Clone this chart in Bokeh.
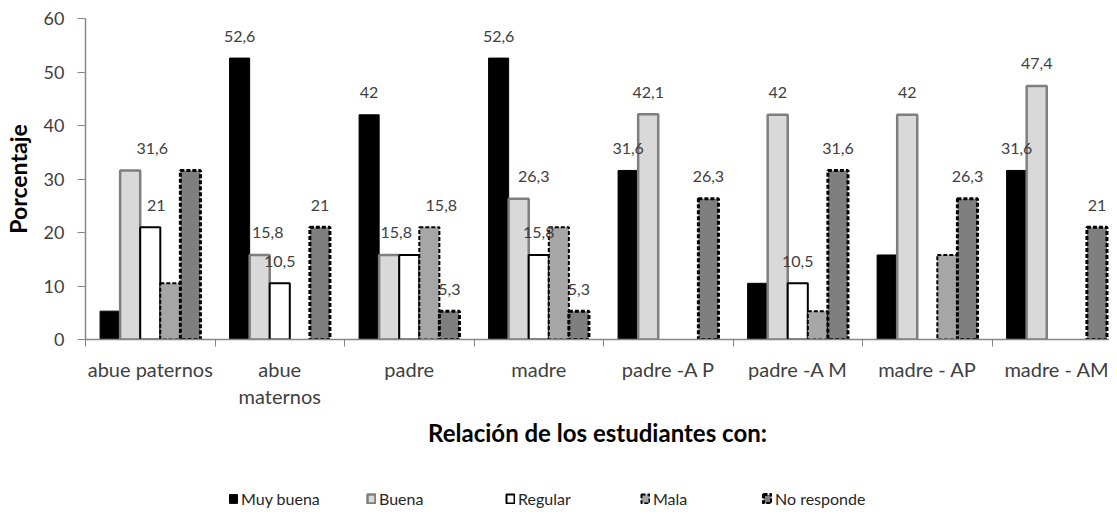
from bokeh.plotting import figure
from bokeh.layouts import column
from bokeh.models import Range1d, FixedTicker, ColumnDataSource, LabelSet, Legend, LegendItem
from bokeh.core.properties import value
from bokeh.embed import file_html
from bokeh.resources import INLINE

# ---------------- data ----------------
categories = ["abue paternos", "abue\nmaternos", "padre", "madre",
              "padre -A P", "padre -A M", "madre - AP", "madre - AM"]
series_names = ["Muy buena", "Buena", "Regular", "Mala", "No responde"]

muy_buena   = [5.3, 52.6, 42.0, 52.6, 31.6, 10.5, 15.8, 31.6]
buena       = [31.6, 15.8, 15.8, 26.3, 42.1, 42.0, 42.0, 47.4]
regular     = [21.0, 10.5, 15.8, 15.8, 0.0, 10.5, 0.0, 0.0]
mala        = [10.5, 0.0, 21.0, 21.0, 0.0, 5.3, 15.8, 0.0]
no_responde = [31.6, 21.0, 5.3, 5.3, 26.3, 31.6, 26.3, 21.0]

# data labels as printed on the chart ("" = no label)
labels_muy_buena   = ["", "52,6", "42", "52,6", "31,6", "", "", "31,6"]
labels_buena       = ["31,6", "15,8", "15,8", "26,3", "42,1", "42", "42", "47,4"]
labels_regular     = ["21", "10,5", "", "15,8", "", "10,5", "", ""]
labels_mala        = ["", "", "15,8", "", "", "", "", ""]
labels_no_responde = ["", "21", "5,3", "5,3", "26,3", "31,6", "26,3", "21"]

y_ticks = [0, 10, 20, 30, 40, 50, 60]

x_title = "Relación de los estudiantes con:"
y_title = "Porcentaje"

# ---------------- styling ----------------
values_all = [muy_buena, buena, regular, mala, no_responde]
labels_all = [labels_muy_buena, labels_buena, labels_regular, labels_mala, labels_no_responde]
offsets = [-0.31, -0.155, 0.0, 0.155, 0.31]
bar_w = 0.155
styles = [
    dict(fill_color="#000000", line_color="#000000", line_width=1, line_dash="solid"),
    dict(fill_color="#d9d9d9", line_color="#7f7f7f", line_width=2.5, line_dash="solid"),
    dict(fill_color="#ffffff", line_color="#000000", line_width=2, line_dash="solid"),
    dict(fill_color="#a6a6a6", line_color="#000000", line_width=2, line_dash="4 2"),
    dict(fill_color="#7f7f7f", line_color="#000000", line_width=3, line_dash="4 2"),
]
# small horizontal nudges (px) of some data labels, as in the original
label_nudge = {(1, 0): 22, (2, 0): 6, (1, 1): 8, (1, 2): 7, (3, 2): 12, (1, 3): 15}
legend_x = [143, 281, 420, 555, 677]   # px from the plot frame's left edge

FONT = "Lato"
TXT = "#404040"

n = len(categories)
x_lo, x_hi = -0.5, 7.407
p = figure(width=1109, height=460,
           x_range=Range1d(x_lo, x_hi), y_range=Range1d(0, 60),
           output_backend="svg", toolbar_location=None,
           min_border_left=85, min_border_right=0, min_border_top=18, min_border_bottom=121)
p.outline_line_color = None
p.xgrid.visible = False
p.ygrid.visible = False

sources = []
for si, (name, vals, labs) in enumerate(zip(series_names, values_all, labels_all)):
    xs = [i + offsets[si] for i in range(n) if vals[i] > 0]
    tops = [vals[i] for i in range(n) if vals[i] > 0]
    src = ColumnDataSource(dict(x=xs, top=tops))
    sources.append(src)
    p.vbar(x="x", top="top", width=bar_w, source=src, **styles[si])

    lx, ly, lt, lo = [], [], [], []
    for i in range(n):
        if labs[i]:
            lx.append(i + offsets[si])
            ly.append(vals[i])
            lt.append(labs[i])
            lo.append(label_nudge.get((si, i), 0))
    lsrc = ColumnDataSource(dict(x=lx, y=ly, t=lt, xo=lo))
    ls = LabelSet(x="x", y="y", text="t", source=lsrc, x_offset="xo", y_offset=22,
                  text_align="center", text_baseline="middle",
                  text_font=value(FONT), text_font_size="16px", text_color=TXT)
    p.add_layout(ls)

# x axis
xa = p.xaxis[0]
xa.ticker = FixedTicker(ticks=list(range(n)), minor_ticks=[i - 0.5 for i in range(n + 1)])
xa.major_label_overrides = {i: c for i, c in enumerate(categories)}
xa.major_tick_out = 0
xa.major_tick_in = 0
xa.major_tick_line_color = None
xa.minor_tick_out = 7
xa.minor_tick_in = 0
xa.minor_tick_line_color = "#868686"
xa.axis_line_color = "#868686"
xa.axis_line_width = 1.5
xa.major_label_text_font = FONT
xa.major_label_text_font_size = "20px"
xa.major_label_text_color = TXT
xa.major_label_text_line_height = 1.15
xa.major_label_standoff = 10
xa.axis_label = x_title
xa.axis_label_text_font = FONT
xa.axis_label_text_font_style = "bold"
xa.axis_label_text_font_size = "24px"
xa.axis_label_text_color = "#000000"
xa.axis_label_standoff = 7

# y axis
ya = p.yaxis[0]
ya.ticker = FixedTicker(ticks=y_ticks)
ya.major_tick_out = 8
ya.major_tick_in = 0
ya.major_tick_line_color = "#868686"
ya.minor_tick_line_color = None
ya.axis_line_color = "#868686"
ya.axis_line_width = 1.5
ya.major_label_text_font = FONT
ya.major_label_text_font_size = "18px"
ya.major_label_text_color = TXT
ya.major_label_standoff = 13
ya.axis_label = y_title
ya.axis_label_text_font = FONT
ya.axis_label_text_font_style = "bold"
ya.axis_label_text_font_size = "23px"
ya.axis_label_text_color = "#000000"
ya.axis_label_standoff = 9

# legend strip below the chart: its renderers are muted with fully transparent
# muted styles, so only the legend entries show
pl = figure(width=1109, height=48, x_range=Range1d(x_lo, x_hi), y_range=Range1d(0, 60),
            output_backend="svg", toolbar_location=None,
            x_axis_location=None, y_axis_location=None, min_border=0)
pl.outline_line_color = None
pl.xgrid.visible = False
pl.ygrid.visible = False
for name, st, src, lxp in zip(series_names, styles, sources, legend_x):
    proxy = pl.vbar(x="x", top="top", width=bar_w, source=src,
                    muted_fill_alpha=0, muted_line_alpha=0, **st)
    proxy.muted = True
    leg = Legend(items=[LegendItem(label=name, renderers=[proxy])],
                 location=(lxp, 0), orientation="horizontal",
                 glyph_width=10, glyph_height=11, label_standoff=3,
                 padding=0, margin=0, spacing=0,
                 border_line_color=None, background_fill_alpha=0,
                 label_text_font=FONT, label_text_font_size="16px",
                 label_text_color="#262626")
    pl.add_layout(leg, "center")

layout = column(p, pl, spacing=0)
open("out.html", "w").write(file_html(layout, INLINE))
